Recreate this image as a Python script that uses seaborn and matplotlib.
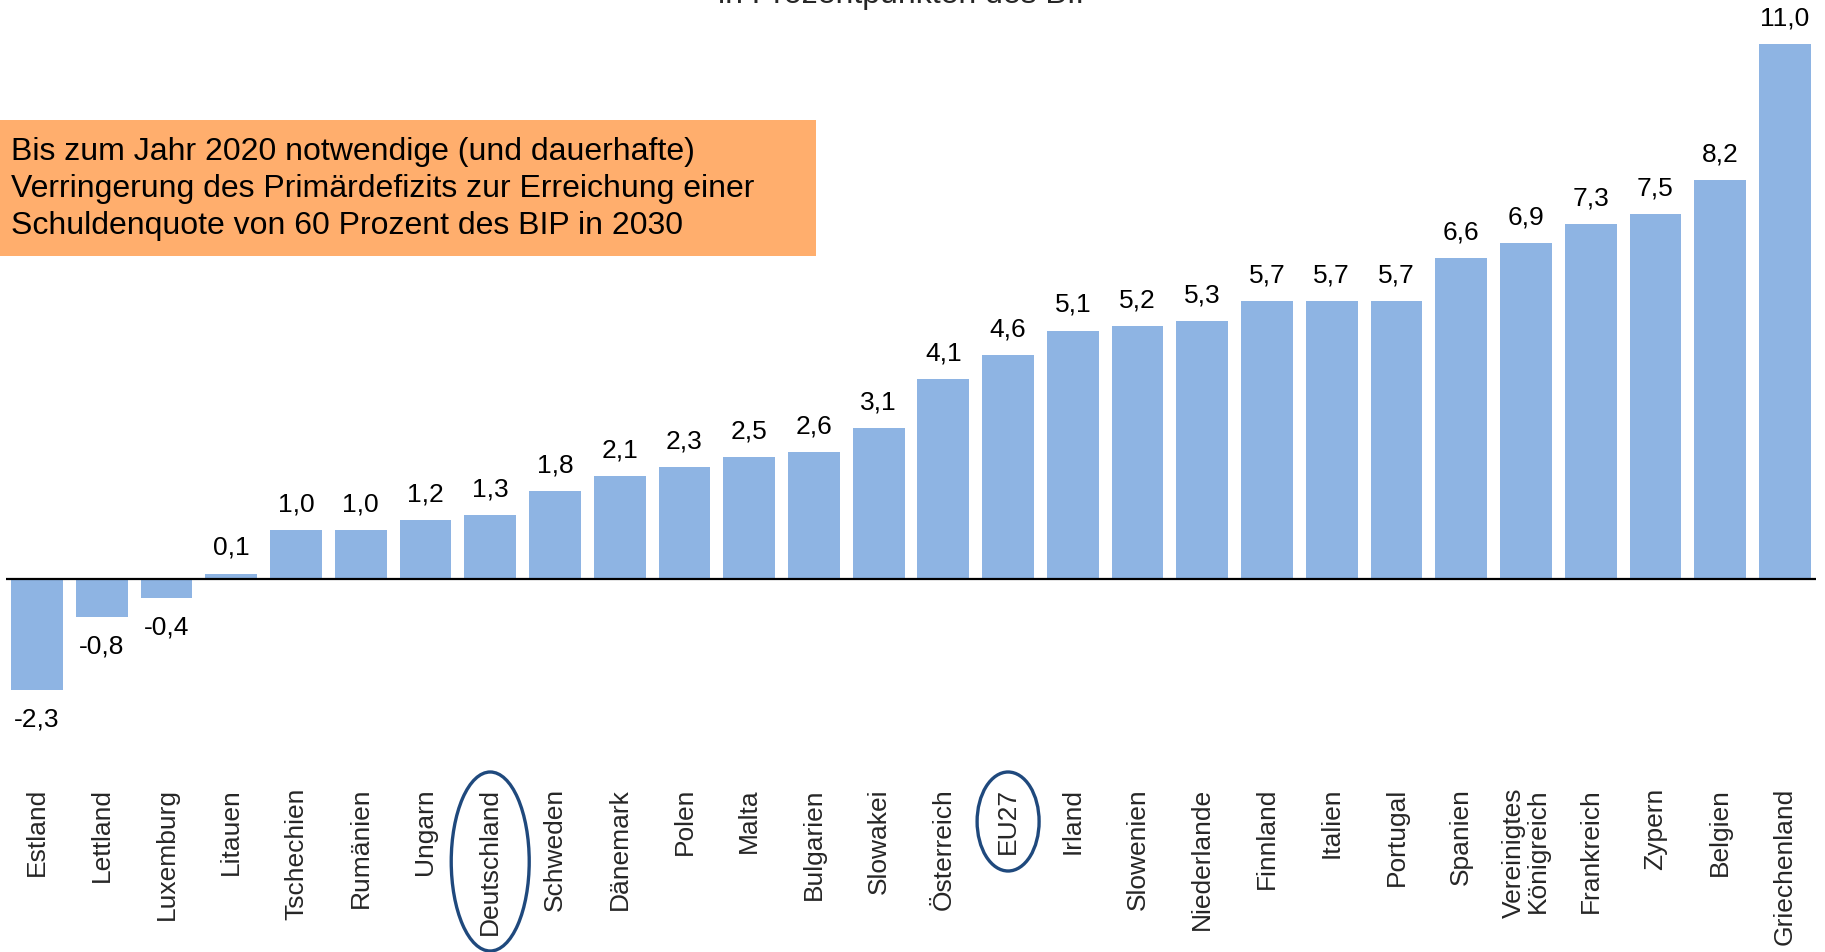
import matplotlib
matplotlib.use("Agg")
import matplotlib.pyplot as plt
import matplotlib.transforms as mtransforms
from matplotlib.patches import Ellipse, Rectangle
import seaborn as sns

countries = ["Estland", "Lettland", "Luxemburg", "Litauen", "Tschechien", "Rumänien",
             "Ungarn", "Deutschland", "Schweden", "Dänemark", "Polen", "Malta",
             "Bulgarien", "Slowakei", "Österreich", "EU27", "Irland", "Slowenien",
             "Niederlande", "Finnland", "Italien", "Portugal", "Spanien",
             "Vereinigtes\nKönigreich", "Frankreich", "Zypern", "Belgien", "Griechenland"]
values = [-2.3, -0.8, -0.4, 0.1, 1.0, 1.0, 1.2, 1.3, 1.8, 2.1, 2.3, 2.5, 2.6, 3.1,
          4.1, 4.6, 5.1, 5.2, 5.3, 5.7, 5.7, 5.7, 6.6, 6.9, 7.3, 7.5, 8.2, 11.0]

subtitle = "in Prozentpunkten des BIP"
note = ("Bis zum Jahr 2020 notwendige (und dauerhafte)\n"
        "Verringerung des Primärdefizits zur Erreichung einer\n"
        "Schuldenquote von 60 Prozent des BIP in 2030")

sns.set_theme(style="white")
plt.rcParams["font.family"] = ["Liberation Sans", "DejaVu Sans"]

W, H = 1825, 952
fig = plt.figure(figsize=(W / 100, H / 100), dpi=100)
ax = fig.add_axes([6 / W, (H - 788) / H, (1816 - 6) / W, 788 / H])
ax.patch.set_alpha(0)

bar_color = "#8EB4E3"
sns.barplot(x=list(range(len(countries))), y=values, color=bar_color, saturation=1,
            width=0.8, ax=ax, edgecolor="none")

ax.set_xlim(-0.48, len(countries) - 1 + 0.48)
ax.set_ylim(-(788 - 578.5) / 48.6, 578.5 / 48.6)
ax.axhline(0, color="black", linewidth=1.6, zorder=5)

for s in ax.spines.values():
    s.set_visible(False)
ax.set_yticks([])
ax.set_xticks(range(len(countries)))
ax.set_xticklabels(countries, rotation=90, fontsize=19, multialignment="right",
                   linespacing=1.0)
ax.tick_params(axis="x", length=0, pad=0)
ax.set_xlabel("")
ax.set_ylabel("")

# value labels
for i, v in enumerate(values):
    txt = f"{v:.1f}".replace(".", ",")
    off = 18.5 if v >= 0 else -21
    ax.annotate(txt, (i, v), xytext=(0, off), textcoords="offset points",
                ha="center", va="center", fontsize=19, color="black")

# ellipses around highlighted labels
trans = mtransforms.blended_transform_factory(ax.transData, fig.transFigure)
for name, w_px, h_px in [("Deutschland", 78, 179), ("EU27", 62, 99)]:
    idx = countries.index(name)
    yc = (H - (772 + h_px / 2)) / H
    e = Ellipse((idx, yc), width=w_px / 64.74, height=h_px / H, transform=trans,
                fill=False, edgecolor="#1F497D", linewidth=2.4, clip_on=False)
    fig.add_artist(e)

# note box
box = Rectangle((0, (H - 256) / H), 816 / W, 136 / H, transform=fig.transFigure,
                facecolor="#FFAE6D", edgecolor="none", zorder=-1)
fig.add_artist(box)
fig.text(11 / W, (H - 189) / H, note, fontsize=23, va="center", ha="left",
         linespacing=1.3, color="black")

fig.text(908 / W, 1 - 3 / H, subtitle, fontsize=23, ha="center", va="baseline")

fig.savefig("out.png", dpi=100)
